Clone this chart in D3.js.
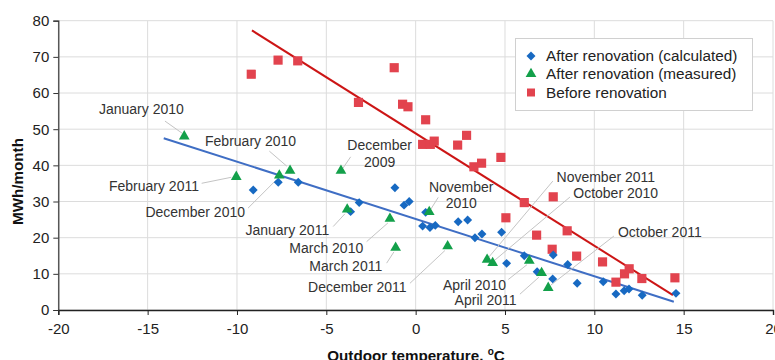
<!DOCTYPE html>
<html><head><meta charset="utf-8">
<script src="https://cdn.jsdelivr.net/npm/d3@7"></script>
<style>
body{margin:0;background:#fff;}
svg{display:block;font-family:"Liberation Sans",Arial,sans-serif;}
.tick text{font-size:15px;fill:#222;}
</style></head><body>
<svg id="chart" width="775" height="360"></svg>
<script>
// ---- data ----
const xTicks = [-20,-15,-10,-5,0,5,10,15,20];
const yTicks = [0,10,20,30,40,50,60,70,80];

const beforeX = [-9.2,-7.7,-6.6,-3.2,-1.2,-0.73,-0.43,0.56,0.39,0.82,1.04,2.35,2.85,3.26,3.69,4.77,5.05,6.08,7.7,6.77,7.64,8.48,9.01,10.46,11.21,11.69,11.95,12.66,14.51];
const beforeY = [65.2,69.1,68.9,57.4,67.0,56.9,56.2,52.6,45.8,45.8,46.7,45.6,48.3,39.6,40.6,42.2,25.5,29.7,31.3,20.7,16.8,21.9,14.9,13.3,7.7,10.0,11.4,8.7,8.9];

const calcX = [-9.09,-7.69,-6.57,-3.64,-3.16,-1.16,-0.65,-0.36,0.56,0.39,0.80,1.10,2.38,2.91,3.32,3.71,4.81,5.09,6.08,6.80,7.70,7.67,8.51,9.04,10.50,11.21,11.67,11.94,12.68,14.57];
const calcY = [33.2,35.3,35.3,27.2,29.7,33.8,29.0,30.0,27.0,23.2,22.8,23.4,24.4,24.9,20.0,21.0,21.5,12.9,15.0,10.6,15.2,8.6,12.6,7.4,7.8,4.4,5.3,5.8,4.1,4.6];

const measLabels = ["January 2010","February 2010","December 2009","February 2011","December 2010","January 2011","March 2010","March 2011","December 2011","November 2010","April 2010","April 2011","November 2011","October 2010","October 2011"];
const measX = [-12.95,-7.03,-4.18,-10.04,-7.63,-3.83,-1.44,-1.12,1.79,0.76,6.36,7.05,4.0,4.31,7.42];
const measY = [47.9,38.4,38.4,36.7,37.1,27.7,25.1,17.1,17.5,27.0,13.5,10.1,13.8,12.9,6.0];

const calcTrendX = [-14.1,14.45];
const calcTrendY = [47.5,2.3];
const beforeTrendX = [-9.16,14.4];
const beforeTrendY = [77.3,4.1];

const seriesNames = ["After renovation (calculated)","After renovation (measured)","Before renovation"];

// ---- annotation layout (pixel offsets from the marked point) ----
// [anchor, textDx, [lineDy...], leaderFrom dx,dy, leaderTo dx,dy]
const annLayout = [
  ["start",-85.3,[-27.7],-19.3,-15.7,-2.3,-3.7],
  ["start",-85,[-30.3],-20.7,-20,-3.3,-5],
  ["middle",38.7,[-26,-9.3],9.7,-14.3,2,-3],
  ["end",-37.3,[8.7],-34.6,6,-5,0],
  ["end",-34.3,[36],-31.3,32.3,-3.3,4.3],
  ["end",-18,[20.7],-14,16.7,-2.3,4],
  ["end",-26.7,[29],-23.3,22.4,-2,3.7],
  ["end",-13.4,[18.4],-9,15,-1.7,3.7],
  ["end",-41,[40.6],-37.7,36.6,-2.7,3.8],
  ["middle",32,[-25,-9],9,-15,1.7,-3.3],
  ["end",-23.3,[24],-21,18.3,-2.3,3.5],
  ["end",-25,[26.7],-21.7,20.7,-2.7,3.7],
  ["start",69.4,[-82.7],65.7,-79,1.7,-3],
  ["start",80.6,[-70],77.3,-66.3,2.3,-3.3],
  ["start",69.7,[-56.6],65.7,-52.3,2.7,-3.3]
];
const annLines = {2:["December","2009"],9:["November","2010"]};

// ---- chart ----
const svg = d3.select("#chart");
const L=58.3, R=773, T=20.7, B=310;
const x = d3.scaleLinear().domain([-20,20]).range([L,R]);
const y = d3.scaleLinear().domain([0,80]).range([B,T]);

const colBlue="#1769c2", colGreen="#13a04a", colRed="#e2434e";
const lineRed="#cc1515", lineBlue="#3f6ec4";

// grid
const g = svg.append("g");
g.selectAll(".gx").data(xTicks).join("line")
  .attr("x1",d=>x(d)).attr("x2",d=>x(d)).attr("y1",T).attr("y2",B)
  .attr("stroke","#dcdcdc").attr("stroke-width",1);
g.selectAll(".gy").data(yTicks).join("line")
  .attr("x1",L).attr("x2",R).attr("y1",d=>y(d)).attr("y2",d=>y(d))
  .attr("stroke","#dcdcdc").attr("stroke-width",1);

// axes
const fmt = d=>String(d);
const ax = svg.append("g").attr("transform",`translate(0,${B})`)
  .call(d3.axisBottom(x).tickValues(xTicks).tickFormat(fmt).tickSize(5).tickPadding(8));
ax.select(".domain").attr("stroke","#222").attr("stroke-width",1.4);
ax.selectAll(".tick line").attr("stroke","#222");
const ay = svg.append("g").attr("transform",`translate(${L},0)`)
  .call(d3.axisLeft(y).tickValues(yTicks).tickFormat(fmt).tickSize(5).tickPadding(4));
ay.select(".domain").attr("stroke","#333").attr("stroke-width",1.2);
ay.selectAll(".tick line").attr("stroke","#333");

// trend lines
const line = d3.line().x(d=>x(d[0])).y(d=>y(d[1]));
svg.append("path").datum(beforeTrendX.map((v,i)=>[v,beforeTrendY[i]]))
  .attr("d",line).attr("fill","none").attr("stroke",lineRed).attr("stroke-width",2);
svg.append("path").datum(calcTrendX.map((v,i)=>[v,calcTrendY[i]]))
  .attr("d",line).attr("fill","none").attr("stroke",lineBlue).attr("stroke-width",2);

// leader lines
const ann = svg.append("g");
measX.forEach((mx,i)=>{
  const px=x(mx), py=y(measY[i]); const a=annLayout[i];
  ann.append("line").attr("x1",px+a[3]).attr("y1",py+a[4]).attr("x2",px+a[5]).attr("y2",py+a[6])
    .attr("stroke","#c4c4c4").attr("stroke-width",1);
});

// markers
const sq = d3.symbol().type(d3.symbolSquare).size(84);
const dia = d3.symbol().type(d3.symbolSquare).size(40);
const tri = d3.symbol().type(d3.symbolTriangle).size(50);
svg.append("g").selectAll("path").data(beforeX).join("path")
  .attr("d",sq).attr("fill",colRed)
  .attr("transform",(d,i)=>`translate(${x(d)},${y(beforeY[i])})`);
svg.append("g").selectAll("path").data(calcX).join("path")
  .attr("d",dia).attr("fill",colBlue)
  .attr("transform",(d,i)=>`translate(${x(d)},${y(calcY[i])}) rotate(45)`);
svg.append("g").selectAll("path").data(measX).join("path")
  .attr("d",tri).attr("fill",colGreen)
  .attr("transform",(d,i)=>`translate(${x(d)},${y(measY[i])-0.5})`);

// annotation text
measX.forEach((mx,i)=>{
  const px=x(mx), py=y(measY[i]); const a=annLayout[i];
  const lines = annLines[i] || [measLabels[i]];
  lines.forEach((t,k)=>{
    ann.append("text").attr("x",px+a[1]).attr("y",py+a[2][k]).attr("dy","0.35em")
      .attr("text-anchor",a[0]).attr("font-size",14).attr("fill","#333").text(t);
  });
});

// legend
const lg = svg.append("g");
lg.append("rect").attr("x",515.5).attr("y",38.5).attr("width",237).attr("height",72)
  .attr("fill","#fff").attr("stroke","#d0d0d0");
const rowsY=[56,74,92.5];
const syms=[dia,tri,sq], cols=[colBlue,colGreen,colRed], rot=[45,0,0];
seriesNames.forEach((n,i)=>{
  lg.append("path").attr("d", i===2? d3.symbol().type(d3.symbolSquare).size(64)() : syms[i]())
    .attr("fill",cols[i]).attr("transform",`translate(531,${rowsY[i]}) rotate(${rot[i]})`);
  lg.append("text").attr("x",546).attr("y",rowsY[i]).attr("dy","0.35em")
    .attr("font-size",15.3).attr("fill","#222").text(n);
});

// axis titles
svg.append("text").attr("transform","translate(23,181.5) rotate(-90)")
  .attr("text-anchor","middle").attr("font-weight","bold").attr("font-size",15.2).attr("fill","#111")
  .text("MWh/month");
const xt = svg.append("text").attr("x",416).attr("y",361).attr("text-anchor","middle")
  .attr("font-weight","bold").attr("font-size",15.2).attr("fill","#111");
xt.append("tspan").text("Outdoor temperature, ");
xt.append("tspan").attr("font-size",10).attr("dy",-6).text("o");
xt.append("tspan").attr("dy",6).text("C");
</script>
</body></html>
